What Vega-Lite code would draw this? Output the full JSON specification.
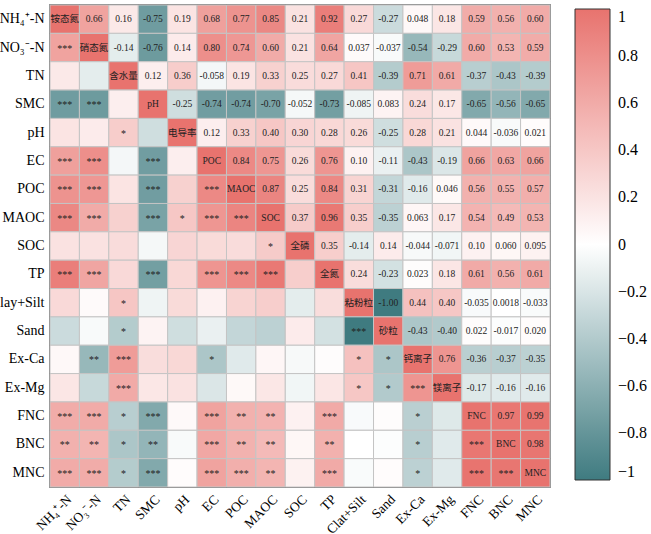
{
  "$schema": "https://vega.github.io/schema/vega-lite/v6.json",
  "width": 500,
  "height": 482,
  "autosize": {"type": "none"},
  "padding": {"left": 50, "top": 5, "right": 101, "bottom": 47},
  "background": "white",
  "config": {
    "view": {"stroke": "#444", "strokeWidth": 1.5},
    "font": "Liberation Serif"
  },
  "data": {
    "values": [
      {"a":"NH₄⁺-N","b":"NH₄⁺-N","r":1,"t":"铵态氮","p":"d"},
      {"a":"NH₄⁺-N","b":"NO₃⁻-N","r":0.66,"t":"0.66","p":"u"},
      {"a":"NH₄⁺-N","b":"TN","r":0.16,"t":"0.16","p":"u"},
      {"a":"NH₄⁺-N","b":"SMC","r":-0.75,"t":"-0.75","p":"u"},
      {"a":"NH₄⁺-N","b":"pH","r":0.19,"t":"0.19","p":"u"},
      {"a":"NH₄⁺-N","b":"EC","r":0.68,"t":"0.68","p":"u"},
      {"a":"NH₄⁺-N","b":"POC","r":0.77,"t":"0.77","p":"u"},
      {"a":"NH₄⁺-N","b":"MAOC","r":0.85,"t":"0.85","p":"u"},
      {"a":"NH₄⁺-N","b":"SOC","r":0.21,"t":"0.21","p":"u"},
      {"a":"NH₄⁺-N","b":"TP","r":0.92,"t":"0.92","p":"u"},
      {"a":"NH₄⁺-N","b":"Clay+Silt","r":0.27,"t":"0.27","p":"u"},
      {"a":"NH₄⁺-N","b":"Sand","r":-0.27,"t":"-0.27","p":"u"},
      {"a":"NH₄⁺-N","b":"Ex-Ca","r":0.048,"t":"0.048","p":"u"},
      {"a":"NH₄⁺-N","b":"Ex-Mg","r":0.18,"t":"0.18","p":"u"},
      {"a":"NH₄⁺-N","b":"FNC","r":0.59,"t":"0.59","p":"u"},
      {"a":"NH₄⁺-N","b":"BNC","r":0.56,"t":"0.56","p":"u"},
      {"a":"NH₄⁺-N","b":"MNC","r":0.60,"t":"0.60","p":"u"},

      {"a":"NO₃⁻-N","b":"NH₄⁺-N","r":0.66,"t":"***","p":"l"},
      {"a":"NO₃⁻-N","b":"NO₃⁻-N","r":1,"t":"硝态氮","p":"d"},
      {"a":"NO₃⁻-N","b":"TN","r":-0.14,"t":"-0.14","p":"u"},
      {"a":"NO₃⁻-N","b":"SMC","r":-0.76,"t":"-0.76","p":"u"},
      {"a":"NO₃⁻-N","b":"pH","r":0.14,"t":"0.14","p":"u"},
      {"a":"NO₃⁻-N","b":"EC","r":0.80,"t":"0.80","p":"u"},
      {"a":"NO₃⁻-N","b":"POC","r":0.74,"t":"0.74","p":"u"},
      {"a":"NO₃⁻-N","b":"MAOC","r":0.60,"t":"0.60","p":"u"},
      {"a":"NO₃⁻-N","b":"SOC","r":0.21,"t":"0.21","p":"u"},
      {"a":"NO₃⁻-N","b":"TP","r":0.64,"t":"0.64","p":"u"},
      {"a":"NO₃⁻-N","b":"Clay+Silt","r":0.037,"t":"0.037","p":"u"},
      {"a":"NO₃⁻-N","b":"Sand","r":-0.037,"t":"-0.037","p":"u"},
      {"a":"NO₃⁻-N","b":"Ex-Ca","r":-0.54,"t":"-0.54","p":"u"},
      {"a":"NO₃⁻-N","b":"Ex-Mg","r":-0.29,"t":"-0.29","p":"u"},
      {"a":"NO₃⁻-N","b":"FNC","r":0.60,"t":"0.60","p":"u"},
      {"a":"NO₃⁻-N","b":"BNC","r":0.53,"t":"0.53","p":"u"},
      {"a":"NO₃⁻-N","b":"MNC","r":0.59,"t":"0.59","p":"u"},

      {"a":"TN","b":"NH₄⁺-N","r":0.16,"t":"","p":"l"},
      {"a":"TN","b":"NO₃⁻-N","r":-0.14,"t":"","p":"l"},
      {"a":"TN","b":"TN","r":1,"t":"含水量","p":"d"},
      {"a":"TN","b":"SMC","r":0.12,"t":"0.12","p":"u"},
      {"a":"TN","b":"pH","r":0.36,"t":"0.36","p":"u"},
      {"a":"TN","b":"EC","r":-0.058,"t":"-0.058","p":"u"},
      {"a":"TN","b":"POC","r":0.19,"t":"0.19","p":"u"},
      {"a":"TN","b":"MAOC","r":0.33,"t":"0.33","p":"u"},
      {"a":"TN","b":"SOC","r":0.25,"t":"0.25","p":"u"},
      {"a":"TN","b":"TP","r":0.27,"t":"0.27","p":"u"},
      {"a":"TN","b":"Clay+Silt","r":0.41,"t":"0.41","p":"u"},
      {"a":"TN","b":"Sand","r":-0.39,"t":"-0.39","p":"u"},
      {"a":"TN","b":"Ex-Ca","r":0.71,"t":"0.71","p":"u"},
      {"a":"TN","b":"Ex-Mg","r":0.61,"t":"0.61","p":"u"},
      {"a":"TN","b":"FNC","r":-0.37,"t":"-0.37","p":"u"},
      {"a":"TN","b":"BNC","r":-0.43,"t":"-0.43","p":"u"},
      {"a":"TN","b":"MNC","r":-0.39,"t":"-0.39","p":"u"},

      {"a":"SMC","b":"NH₄⁺-N","r":-0.75,"t":"***","p":"l"},
      {"a":"SMC","b":"NO₃⁻-N","r":-0.76,"t":"***","p":"l"},
      {"a":"SMC","b":"TN","r":0.12,"t":"","p":"l"},
      {"a":"SMC","b":"SMC","r":1,"t":"pH","p":"d"},
      {"a":"SMC","b":"pH","r":-0.25,"t":"-0.25","p":"u"},
      {"a":"SMC","b":"EC","r":-0.74,"t":"-0.74","p":"u"},
      {"a":"SMC","b":"POC","r":-0.74,"t":"-0.74","p":"u"},
      {"a":"SMC","b":"MAOC","r":-0.70,"t":"-0.70","p":"u"},
      {"a":"SMC","b":"SOC","r":-0.052,"t":"-0.052","p":"u"},
      {"a":"SMC","b":"TP","r":-0.73,"t":"-0.73","p":"u"},
      {"a":"SMC","b":"Clay+Silt","r":-0.085,"t":"-0.085","p":"u"},
      {"a":"SMC","b":"Sand","r":0.083,"t":"0.083","p":"u"},
      {"a":"SMC","b":"Ex-Ca","r":0.24,"t":"0.24","p":"u"},
      {"a":"SMC","b":"Ex-Mg","r":0.17,"t":"0.17","p":"u"},
      {"a":"SMC","b":"FNC","r":-0.65,"t":"-0.65","p":"u"},
      {"a":"SMC","b":"BNC","r":-0.56,"t":"-0.56","p":"u"},
      {"a":"SMC","b":"MNC","r":-0.65,"t":"-0.65","p":"u"},

      {"a":"pH","b":"NH₄⁺-N","r":0.19,"t":"","p":"l"},
      {"a":"pH","b":"NO₃⁻-N","r":0.14,"t":"","p":"l"},
      {"a":"pH","b":"TN","r":0.36,"t":"*","p":"l"},
      {"a":"pH","b":"SMC","r":-0.25,"t":"","p":"l"},
      {"a":"pH","b":"pH","r":1,"t":"电导率","p":"d"},
      {"a":"pH","b":"EC","r":0.12,"t":"0.12","p":"u"},
      {"a":"pH","b":"POC","r":0.33,"t":"0.33","p":"u"},
      {"a":"pH","b":"MAOC","r":0.40,"t":"0.40","p":"u"},
      {"a":"pH","b":"SOC","r":0.30,"t":"0.30","p":"u"},
      {"a":"pH","b":"TP","r":0.28,"t":"0.28","p":"u"},
      {"a":"pH","b":"Clay+Silt","r":0.26,"t":"0.26","p":"u"},
      {"a":"pH","b":"Sand","r":-0.25,"t":"-0.25","p":"u"},
      {"a":"pH","b":"Ex-Ca","r":0.28,"t":"0.28","p":"u"},
      {"a":"pH","b":"Ex-Mg","r":0.21,"t":"0.21","p":"u"},
      {"a":"pH","b":"FNC","r":0.044,"t":"0.044","p":"u"},
      {"a":"pH","b":"BNC","r":-0.036,"t":"-0.036","p":"u"},
      {"a":"pH","b":"MNC","r":0.021,"t":"0.021","p":"u"},

      {"a":"EC","b":"NH₄⁺-N","r":0.68,"t":"***","p":"l"},
      {"a":"EC","b":"NO₃⁻-N","r":0.80,"t":"***","p":"l"},
      {"a":"EC","b":"TN","r":-0.058,"t":"","p":"l"},
      {"a":"EC","b":"SMC","r":-0.74,"t":"***","p":"l"},
      {"a":"EC","b":"pH","r":0.12,"t":"","p":"l"},
      {"a":"EC","b":"EC","r":1,"t":"POC","p":"d"},
      {"a":"EC","b":"POC","r":0.84,"t":"0.84","p":"u"},
      {"a":"EC","b":"MAOC","r":0.75,"t":"0.75","p":"u"},
      {"a":"EC","b":"SOC","r":0.26,"t":"0.26","p":"u"},
      {"a":"EC","b":"TP","r":0.76,"t":"0.76","p":"u"},
      {"a":"EC","b":"Clay+Silt","r":0.10,"t":"0.10","p":"u"},
      {"a":"EC","b":"Sand","r":-0.11,"t":"-0.11","p":"u"},
      {"a":"EC","b":"Ex-Ca","r":-0.43,"t":"-0.43","p":"u"},
      {"a":"EC","b":"Ex-Mg","r":-0.19,"t":"-0.19","p":"u"},
      {"a":"EC","b":"FNC","r":0.66,"t":"0.66","p":"u"},
      {"a":"EC","b":"BNC","r":0.63,"t":"0.63","p":"u"},
      {"a":"EC","b":"MNC","r":0.66,"t":"0.66","p":"u"},

      {"a":"POC","b":"NH₄⁺-N","r":0.77,"t":"***","p":"l"},
      {"a":"POC","b":"NO₃⁻-N","r":0.74,"t":"***","p":"l"},
      {"a":"POC","b":"TN","r":0.19,"t":"","p":"l"},
      {"a":"POC","b":"SMC","r":-0.74,"t":"***","p":"l"},
      {"a":"POC","b":"pH","r":0.33,"t":"","p":"l"},
      {"a":"POC","b":"EC","r":0.84,"t":"***","p":"l"},
      {"a":"POC","b":"POC","r":1,"t":"MAOC","p":"d"},
      {"a":"POC","b":"MAOC","r":0.87,"t":"0.87","p":"u"},
      {"a":"POC","b":"SOC","r":0.25,"t":"0.25","p":"u"},
      {"a":"POC","b":"TP","r":0.84,"t":"0.84","p":"u"},
      {"a":"POC","b":"Clay+Silt","r":0.31,"t":"0.31","p":"u"},
      {"a":"POC","b":"Sand","r":-0.31,"t":"-0.31","p":"u"},
      {"a":"POC","b":"Ex-Ca","r":-0.16,"t":"-0.16","p":"u"},
      {"a":"POC","b":"Ex-Mg","r":0.046,"t":"0.046","p":"u"},
      {"a":"POC","b":"FNC","r":0.56,"t":"0.56","p":"u"},
      {"a":"POC","b":"BNC","r":0.55,"t":"0.55","p":"u"},
      {"a":"POC","b":"MNC","r":0.57,"t":"0.57","p":"u"},

      {"a":"MAOC","b":"NH₄⁺-N","r":0.85,"t":"***","p":"l"},
      {"a":"MAOC","b":"NO₃⁻-N","r":0.60,"t":"***","p":"l"},
      {"a":"MAOC","b":"TN","r":0.33,"t":"","p":"l"},
      {"a":"MAOC","b":"SMC","r":-0.70,"t":"***","p":"l"},
      {"a":"MAOC","b":"pH","r":0.40,"t":"*","p":"l"},
      {"a":"MAOC","b":"EC","r":0.75,"t":"***","p":"l"},
      {"a":"MAOC","b":"POC","r":0.87,"t":"***","p":"l"},
      {"a":"MAOC","b":"MAOC","r":1,"t":"SOC","p":"d"},
      {"a":"MAOC","b":"SOC","r":0.37,"t":"0.37","p":"u"},
      {"a":"MAOC","b":"TP","r":0.96,"t":"0.96","p":"u"},
      {"a":"MAOC","b":"Clay+Silt","r":0.35,"t":"0.35","p":"u"},
      {"a":"MAOC","b":"Sand","r":-0.35,"t":"-0.35","p":"u"},
      {"a":"MAOC","b":"Ex-Ca","r":0.063,"t":"0.063","p":"u"},
      {"a":"MAOC","b":"Ex-Mg","r":0.17,"t":"0.17","p":"u"},
      {"a":"MAOC","b":"FNC","r":0.54,"t":"0.54","p":"u"},
      {"a":"MAOC","b":"BNC","r":0.49,"t":"0.49","p":"u"},
      {"a":"MAOC","b":"MNC","r":0.53,"t":"0.53","p":"u"},

      {"a":"SOC","b":"NH₄⁺-N","r":0.21,"t":"","p":"l"},
      {"a":"SOC","b":"NO₃⁻-N","r":0.21,"t":"","p":"l"},
      {"a":"SOC","b":"TN","r":0.25,"t":"","p":"l"},
      {"a":"SOC","b":"SMC","r":-0.052,"t":"","p":"l"},
      {"a":"SOC","b":"pH","r":0.30,"t":"","p":"l"},
      {"a":"SOC","b":"EC","r":0.26,"t":"","p":"l"},
      {"a":"SOC","b":"POC","r":0.25,"t":"","p":"l"},
      {"a":"SOC","b":"MAOC","r":0.37,"t":"*","p":"l"},
      {"a":"SOC","b":"SOC","r":1,"t":"全磷","p":"d"},
      {"a":"SOC","b":"TP","r":0.35,"t":"0.35","p":"u"},
      {"a":"SOC","b":"Clay+Silt","r":-0.14,"t":"-0.14","p":"u"},
      {"a":"SOC","b":"Sand","r":0.14,"t":"0.14","p":"u"},
      {"a":"SOC","b":"Ex-Ca","r":-0.044,"t":"-0.044","p":"u"},
      {"a":"SOC","b":"Ex-Mg","r":-0.071,"t":"-0.071","p":"u"},
      {"a":"SOC","b":"FNC","r":0.10,"t":"0.10","p":"u"},
      {"a":"SOC","b":"BNC","r":0.060,"t":"0.060","p":"u"},
      {"a":"SOC","b":"MNC","r":0.095,"t":"0.095","p":"u"},

      {"a":"TP","b":"NH₄⁺-N","r":0.92,"t":"***","p":"l"},
      {"a":"TP","b":"NO₃⁻-N","r":0.64,"t":"***","p":"l"},
      {"a":"TP","b":"TN","r":0.27,"t":"","p":"l"},
      {"a":"TP","b":"SMC","r":-0.73,"t":"***","p":"l"},
      {"a":"TP","b":"pH","r":0.28,"t":"","p":"l"},
      {"a":"TP","b":"EC","r":0.76,"t":"***","p":"l"},
      {"a":"TP","b":"POC","r":0.84,"t":"***","p":"l"},
      {"a":"TP","b":"MAOC","r":0.96,"t":"***","p":"l"},
      {"a":"TP","b":"SOC","r":0.35,"t":"","p":"l"},
      {"a":"TP","b":"TP","r":1,"t":"全氮","p":"d"},
      {"a":"TP","b":"Clay+Silt","r":0.24,"t":"0.24","p":"u"},
      {"a":"TP","b":"Sand","r":-0.23,"t":"-0.23","p":"u"},
      {"a":"TP","b":"Ex-Ca","r":0.023,"t":"0.023","p":"u"},
      {"a":"TP","b":"Ex-Mg","r":0.18,"t":"0.18","p":"u"},
      {"a":"TP","b":"FNC","r":0.61,"t":"0.61","p":"u"},
      {"a":"TP","b":"BNC","r":0.56,"t":"0.56","p":"u"},
      {"a":"TP","b":"MNC","r":0.61,"t":"0.61","p":"u"},

      {"a":"Clay+Silt","b":"NH₄⁺-N","r":0.27,"t":"","p":"l"},
      {"a":"Clay+Silt","b":"NO₃⁻-N","r":0.037,"t":"","p":"l"},
      {"a":"Clay+Silt","b":"TN","r":0.41,"t":"*","p":"l"},
      {"a":"Clay+Silt","b":"SMC","r":-0.085,"t":"","p":"l"},
      {"a":"Clay+Silt","b":"pH","r":0.26,"t":"","p":"l"},
      {"a":"Clay+Silt","b":"EC","r":0.10,"t":"","p":"l"},
      {"a":"Clay+Silt","b":"POC","r":0.31,"t":"","p":"l"},
      {"a":"Clay+Silt","b":"MAOC","r":0.35,"t":"","p":"l"},
      {"a":"Clay+Silt","b":"SOC","r":-0.14,"t":"","p":"l"},
      {"a":"Clay+Silt","b":"TP","r":0.24,"t":"","p":"l"},
      {"a":"Clay+Silt","b":"Clay+Silt","r":1,"t":"粘粉粒","p":"d"},
      {"a":"Clay+Silt","b":"Sand","r":-1.0,"t":"-1.00","p":"u"},
      {"a":"Clay+Silt","b":"Ex-Ca","r":0.44,"t":"0.44","p":"u"},
      {"a":"Clay+Silt","b":"Ex-Mg","r":0.40,"t":"0.40","p":"u"},
      {"a":"Clay+Silt","b":"FNC","r":-0.035,"t":"-0.035","p":"u"},
      {"a":"Clay+Silt","b":"BNC","r":0.0018,"t":"0.0018","p":"u"},
      {"a":"Clay+Silt","b":"MNC","r":-0.033,"t":"-0.033","p":"u"},

      {"a":"Sand","b":"NH₄⁺-N","r":-0.27,"t":"","p":"l"},
      {"a":"Sand","b":"NO₃⁻-N","r":-0.037,"t":"","p":"l"},
      {"a":"Sand","b":"TN","r":-0.39,"t":"*","p":"l"},
      {"a":"Sand","b":"SMC","r":0.083,"t":"","p":"l"},
      {"a":"Sand","b":"pH","r":-0.25,"t":"","p":"l"},
      {"a":"Sand","b":"EC","r":-0.11,"t":"","p":"l"},
      {"a":"Sand","b":"POC","r":-0.31,"t":"","p":"l"},
      {"a":"Sand","b":"MAOC","r":-0.35,"t":"","p":"l"},
      {"a":"Sand","b":"SOC","r":0.14,"t":"","p":"l"},
      {"a":"Sand","b":"TP","r":-0.23,"t":"","p":"l"},
      {"a":"Sand","b":"Clay+Silt","r":-1.0,"t":"***","p":"l"},
      {"a":"Sand","b":"Sand","r":1,"t":"砂粒","p":"d"},
      {"a":"Sand","b":"Ex-Ca","r":-0.43,"t":"-0.43","p":"u"},
      {"a":"Sand","b":"Ex-Mg","r":-0.40,"t":"-0.40","p":"u"},
      {"a":"Sand","b":"FNC","r":0.022,"t":"0.022","p":"u"},
      {"a":"Sand","b":"BNC","r":-0.017,"t":"-0.017","p":"u"},
      {"a":"Sand","b":"MNC","r":0.020,"t":"0.020","p":"u"},

      {"a":"Ex-Ca","b":"NH₄⁺-N","r":0.048,"t":"","p":"l"},
      {"a":"Ex-Ca","b":"NO₃⁻-N","r":-0.54,"t":"**","p":"l"},
      {"a":"Ex-Ca","b":"TN","r":0.71,"t":"***","p":"l"},
      {"a":"Ex-Ca","b":"SMC","r":0.24,"t":"","p":"l"},
      {"a":"Ex-Ca","b":"pH","r":0.28,"t":"","p":"l"},
      {"a":"Ex-Ca","b":"EC","r":-0.43,"t":"*","p":"l"},
      {"a":"Ex-Ca","b":"POC","r":-0.16,"t":"","p":"l"},
      {"a":"Ex-Ca","b":"MAOC","r":0.063,"t":"","p":"l"},
      {"a":"Ex-Ca","b":"SOC","r":-0.044,"t":"","p":"l"},
      {"a":"Ex-Ca","b":"TP","r":0.023,"t":"","p":"l"},
      {"a":"Ex-Ca","b":"Clay+Silt","r":0.44,"t":"*","p":"l"},
      {"a":"Ex-Ca","b":"Sand","r":-0.43,"t":"*","p":"l"},
      {"a":"Ex-Ca","b":"Ex-Ca","r":1,"t":"钙离子","p":"d"},
      {"a":"Ex-Ca","b":"Ex-Mg","r":0.76,"t":"0.76","p":"u"},
      {"a":"Ex-Ca","b":"FNC","r":-0.36,"t":"-0.36","p":"u"},
      {"a":"Ex-Ca","b":"BNC","r":-0.37,"t":"-0.37","p":"u"},
      {"a":"Ex-Ca","b":"MNC","r":-0.35,"t":"-0.35","p":"u"},

      {"a":"Ex-Mg","b":"NH₄⁺-N","r":0.18,"t":"","p":"l"},
      {"a":"Ex-Mg","b":"NO₃⁻-N","r":-0.29,"t":"","p":"l"},
      {"a":"Ex-Mg","b":"TN","r":0.61,"t":"***","p":"l"},
      {"a":"Ex-Mg","b":"SMC","r":0.17,"t":"","p":"l"},
      {"a":"Ex-Mg","b":"pH","r":0.21,"t":"","p":"l"},
      {"a":"Ex-Mg","b":"EC","r":-0.19,"t":"","p":"l"},
      {"a":"Ex-Mg","b":"POC","r":0.046,"t":"","p":"l"},
      {"a":"Ex-Mg","b":"MAOC","r":0.17,"t":"","p":"l"},
      {"a":"Ex-Mg","b":"SOC","r":-0.071,"t":"","p":"l"},
      {"a":"Ex-Mg","b":"TP","r":0.18,"t":"","p":"l"},
      {"a":"Ex-Mg","b":"Clay+Silt","r":0.40,"t":"*","p":"l"},
      {"a":"Ex-Mg","b":"Sand","r":-0.40,"t":"*","p":"l"},
      {"a":"Ex-Mg","b":"Ex-Ca","r":0.76,"t":"***","p":"l"},
      {"a":"Ex-Mg","b":"Ex-Mg","r":1,"t":"镁离子","p":"d"},
      {"a":"Ex-Mg","b":"FNC","r":-0.17,"t":"-0.17","p":"u"},
      {"a":"Ex-Mg","b":"BNC","r":-0.16,"t":"-0.16","p":"u"},
      {"a":"Ex-Mg","b":"MNC","r":-0.16,"t":"-0.16","p":"u"},

      {"a":"FNC","b":"NH₄⁺-N","r":0.59,"t":"***","p":"l"},
      {"a":"FNC","b":"NO₃⁻-N","r":0.60,"t":"***","p":"l"},
      {"a":"FNC","b":"TN","r":-0.37,"t":"*","p":"l"},
      {"a":"FNC","b":"SMC","r":-0.65,"t":"***","p":"l"},
      {"a":"FNC","b":"pH","r":0.044,"t":"","p":"l"},
      {"a":"FNC","b":"EC","r":0.66,"t":"***","p":"l"},
      {"a":"FNC","b":"POC","r":0.56,"t":"**","p":"l"},
      {"a":"FNC","b":"MAOC","r":0.54,"t":"**","p":"l"},
      {"a":"FNC","b":"SOC","r":0.10,"t":"","p":"l"},
      {"a":"FNC","b":"TP","r":0.61,"t":"***","p":"l"},
      {"a":"FNC","b":"Clay+Silt","r":-0.035,"t":"","p":"l"},
      {"a":"FNC","b":"Sand","r":0.022,"t":"","p":"l"},
      {"a":"FNC","b":"Ex-Ca","r":-0.36,"t":"*","p":"l"},
      {"a":"FNC","b":"Ex-Mg","r":-0.17,"t":"","p":"l"},
      {"a":"FNC","b":"FNC","r":1,"t":"FNC","p":"d"},
      {"a":"FNC","b":"BNC","r":0.97,"t":"0.97","p":"u"},
      {"a":"FNC","b":"MNC","r":0.99,"t":"0.99","p":"u"},

      {"a":"BNC","b":"NH₄⁺-N","r":0.56,"t":"**","p":"l"},
      {"a":"BNC","b":"NO₃⁻-N","r":0.53,"t":"**","p":"l"},
      {"a":"BNC","b":"TN","r":-0.43,"t":"*","p":"l"},
      {"a":"BNC","b":"SMC","r":-0.56,"t":"**","p":"l"},
      {"a":"BNC","b":"pH","r":-0.036,"t":"","p":"l"},
      {"a":"BNC","b":"EC","r":0.63,"t":"***","p":"l"},
      {"a":"BNC","b":"POC","r":0.55,"t":"**","p":"l"},
      {"a":"BNC","b":"MAOC","r":0.49,"t":"**","p":"l"},
      {"a":"BNC","b":"SOC","r":0.060,"t":"","p":"l"},
      {"a":"BNC","b":"TP","r":0.56,"t":"**","p":"l"},
      {"a":"BNC","b":"Clay+Silt","r":0.0018,"t":"","p":"l"},
      {"a":"BNC","b":"Sand","r":-0.017,"t":"","p":"l"},
      {"a":"BNC","b":"Ex-Ca","r":-0.37,"t":"*","p":"l"},
      {"a":"BNC","b":"Ex-Mg","r":-0.16,"t":"","p":"l"},
      {"a":"BNC","b":"FNC","r":0.97,"t":"***","p":"l"},
      {"a":"BNC","b":"BNC","r":1,"t":"BNC","p":"d"},
      {"a":"BNC","b":"MNC","r":0.98,"t":"0.98","p":"u"},

      {"a":"MNC","b":"NH₄⁺-N","r":0.60,"t":"***","p":"l"},
      {"a":"MNC","b":"NO₃⁻-N","r":0.59,"t":"***","p":"l"},
      {"a":"MNC","b":"TN","r":-0.39,"t":"*","p":"l"},
      {"a":"MNC","b":"SMC","r":-0.65,"t":"***","p":"l"},
      {"a":"MNC","b":"pH","r":0.021,"t":"","p":"l"},
      {"a":"MNC","b":"EC","r":0.66,"t":"***","p":"l"},
      {"a":"MNC","b":"POC","r":0.57,"t":"***","p":"l"},
      {"a":"MNC","b":"MAOC","r":0.53,"t":"**","p":"l"},
      {"a":"MNC","b":"SOC","r":0.095,"t":"","p":"l"},
      {"a":"MNC","b":"TP","r":0.61,"t":"***","p":"l"},
      {"a":"MNC","b":"Clay+Silt","r":-0.033,"t":"","p":"l"},
      {"a":"MNC","b":"Sand","r":0.020,"t":"","p":"l"},
      {"a":"MNC","b":"Ex-Ca","r":-0.35,"t":"*","p":"l"},
      {"a":"MNC","b":"Ex-Mg","r":-0.16,"t":"","p":"l"},
      {"a":"MNC","b":"FNC","r":0.99,"t":"***","p":"l"},
      {"a":"MNC","b":"BNC","r":0.98,"t":"***","p":"l"},
      {"a":"MNC","b":"MNC","r":1,"t":"MNC","p":"d"}
    ]
  },
  "encoding": {
    "x": {
      "field": "b",
      "type": "nominal",
      "sort": ["NH₄⁺-N","NO₃⁻-N","TN","SMC","pH","EC","POC","MAOC","SOC","TP","Clay+Silt","Sand","Ex-Ca","Ex-Mg","FNC","BNC","MNC"],
      "scale": {"paddingInner": 0, "paddingOuter": 0},
      "axis": {
        "title": null,
        "labelAngle": -45,
        "labelFont": "Liberation Serif",
        "labelFontSize": 13.5,
        "labelColor": "#000",
        "ticks": false,
        "domain": false,
        "labelPadding": 5,
        "labelExpr": "datum.label == 'Clay+Silt' ? 'Clat+Silt' : datum.label"
      }
    },
    "y": {
      "field": "a",
      "type": "nominal",
      "sort": ["NH₄⁺-N","NO₃⁻-N","TN","SMC","pH","EC","POC","MAOC","SOC","TP","Clay+Silt","Sand","Ex-Ca","Ex-Mg","FNC","BNC","MNC"],
      "scale": {"paddingInner": 0, "paddingOuter": 0},
      "axis": {
        "title": null,
        "labelFont": "Liberation Serif",
        "labelFontSize": 14,
        "labelColor": "#000",
        "ticks": false,
        "domain": false,
        "labelPadding": 6
      }
    }
  },
  "layer": [
    {
      "mark": {"type": "rect", "stroke": "#c4c4c4", "strokeWidth": 1},
      "encoding": {
        "color": {
          "field": "r",
          "type": "quantitative",
          "scale": {
            "domain": [-1, 0, 1],
            "range": ["#3f7b80", "#ffffff", "#e8736e"],
            "interpolate": "rgb"
          },
          "legend": {
            "title": null,
            "orient": "right",
            "offset": 21,
            "direction": "vertical",
            "gradientLength": 471,
            "gradientThickness": 35,
            "gradientStrokeColor": "#333",
            "gradientStrokeWidth": 1,
            "values": [-1, -0.8, -0.6, -0.4, -0.2, 0, 0.2, 0.4, 0.6, 0.8, 1],
            "format": ".1~f",
            "labelFont": "Liberation Serif",
            "labelFontSize": 16,
            "labelColor": "#000",
            "labelOffset": 8,
            "padding": 4
          }
        }
      }
    },
    {
      "transform": [{"filter": "datum.p == 'u'"}],
      "mark": {"type": "text", "font": "Liberation Serif", "fontSize": 9.5, "color": "#222"},
      "encoding": {"text": {"field": "t"}}
    },
    {
      "transform": [{"filter": "datum.p == 'l'"}],
      "mark": {"type": "text", "font": "Liberation Serif", "fontSize": 10, "color": "#222", "dy": 1},
      "encoding": {"text": {"field": "t"}}
    },
    {
      "transform": [{"filter": "datum.p == 'd'"}],
      "mark": {"type": "text", "font": "Liberation Serif, Noto Sans CJK SC", "fontSize": 9.5, "color": "#222"},
      "encoding": {"text": {"field": "t"}}
    }
  ]
}
